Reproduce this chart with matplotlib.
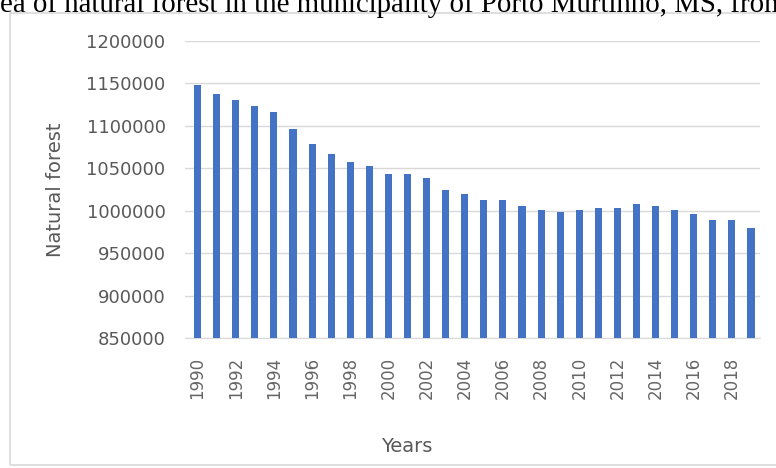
import numpy as np
import matplotlib
matplotlib.use("Agg")
import matplotlib.pyplot as plt
from matplotlib.patches import Rectangle

years = list(range(1990, 2020))
forest = [1148000, 1138000, 1131000, 1124000, 1117000, 1096000, 1079000,
          1067500, 1058000, 1053000, 1043500, 1043500, 1039000, 1024500,
          1020000, 1013000, 1013000, 1005500, 1001000, 998500, 1001000,
          1003500, 1003500, 1008000, 1005500, 1001000, 996000, 989000,
          989000, 979500]
yticks = [850000, 900000, 950000, 1000000, 1050000, 1100000, 1150000, 1200000]

W, H = 776, 468
fig = plt.figure(figsize=(W / 100, H / 100), dpi=100)

# outer chart frame
fig.patches.append(Rectangle((10 / W, 1 - 465 / H), 800 / W, 452 / H,
                             transform=fig.transFigure, fill=False,
                             edgecolor='#d9d9d9', linewidth=1.2))

# cropped caption from the page above the chart
fig.text(0, 1 - 12 / H, 'ea of natural forest in the municipality of Porto Murtinho, MS, from',
         family='Liberation Serif', fontsize=20.8, va='baseline', ha='left', color='black')

ax = fig.add_axes([185 / W, 1 - 338.4 / H, 575 / W, 297.4 / H])
x = np.arange(len(years))
ax.bar(x, forest, width=0.37, color='#4472c4', zorder=3)

ax.set_ylim(850000, 1200000)
ax.set_xlim(-0.66, 29.47)
ax.set_yticks(yticks)
ax.set_yticklabels([str(v) for v in yticks])
ax.set_xticks(x[::2])
ax.set_xticklabels([str(y) for y in years[::2]], rotation=90)
ax.tick_params(axis='y', length=0, pad=14, labelsize=13, labelcolor='#595959')
ax.tick_params(axis='x', length=0, pad=13, labelsize=12, labelcolor='#666666')
ax.grid(axis='y', color='#d9d9d9', linewidth=1, zorder=0)
for s in ['top', 'right', 'left']:
    ax.spines[s].set_visible(False)
ax.spines['bottom'].set_color('#d9d9d9')

ax.set_ylabel('Natural forest', fontsize=14, color='#595959')
ax.set_xlabel('Years', fontsize=14, color='#595959')
ax.yaxis.set_label_coords((65 - 185) / 575, 0.5)
ax.xaxis.set_label_coords(0.385, (338.4 - 437) / 297.4)

fig.savefig('out.png', dpi=100)
